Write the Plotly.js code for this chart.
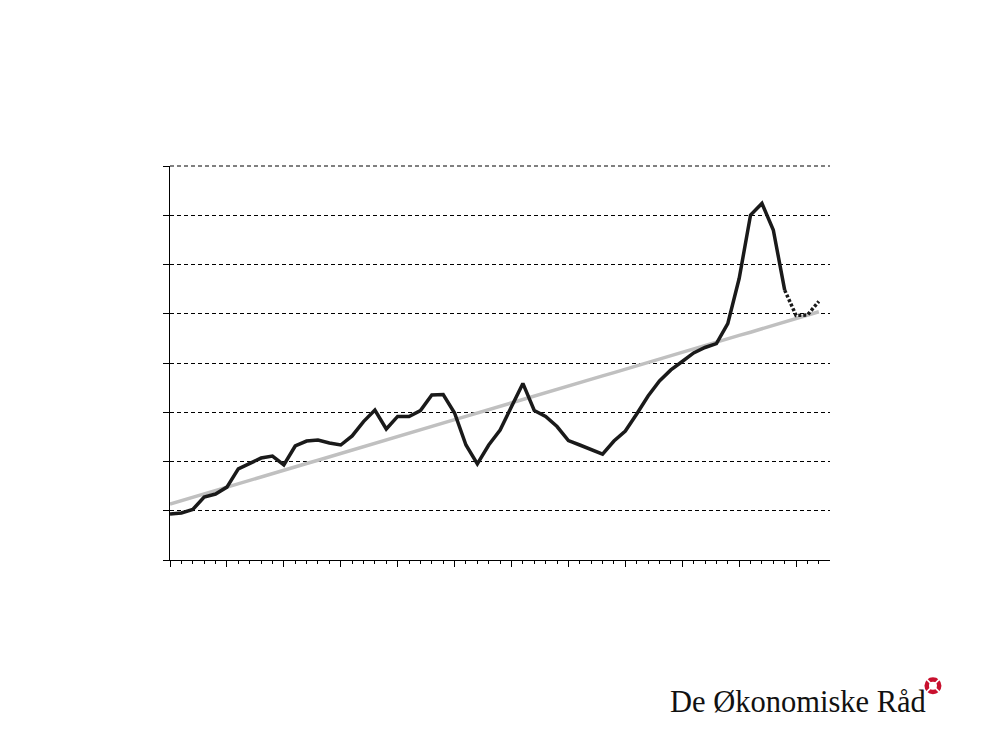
<!DOCTYPE html>
<html>
<head>
<meta charset="utf-8">
<script src="https://cdn.plot.ly/plotly-3.0.1.min.js"></script>
<style>html,body{margin:0;padding:0;background:#fff;}#chart{width:1000px;height:750px;}</style>
</head>
<body>
<div id="chart"></div>
<script>
const years = [1955,1956,1957,1958,1959,1960,1961,1962,1963,1964,1965,1966,1967,1968,1969,1970,1971,1972,1973,1974,1975,1976,1977,1978,1979,1980,1981,1982,1983,1984,1985,1986,1987,1988,1989,1990,1991,1992,1993,1994,1995,1996,1997,1998,1999,2000,2001,2002,2003,2004,2005,2006,2007,2008,2009,2010,2011,2012];
const housePrice = [18.7,19.1,20.5,25.6,26.8,29.6,37.0,39.4,41.4,42.2,38.6,46.3,48.3,48.7,47.5,46.7,50.4,56.2,60.9,53.2,58.3,58.3,60.7,67.0,67.2,59.7,46.7,39.0,46.7,52.8,62.1,71.7,60.7,58.3,54.2,48.5,46.7,44.7,43.0,48.3,52.4,59.3,66.6,72.7,77.2,80.6,84.1,86.3,87.9,96.0,114.3,140.1,144.8,134.0,109.6,99.3,99.5,105.0];
const trend = [22.7,24.1,25.5,26.9,28.2,29.6,31.0,32.3,33.7,35.1,36.4,37.8,39.2,40.5,41.9,43.3,44.6,46.0,47.4,48.7,50.1,51.5,52.9,54.2,55.6,57.0,58.3,59.7,61.1,62.4,63.8,65.2,66.5,67.9,69.3,70.6,72.0,73.4,74.8,76.1,77.5,78.9,80.2,81.6,83.0,84.3,85.7,87.1,88.4,89.8,91.2,92.5,93.9,95.3,96.7,98.0,99.4,100.8];
const forecastStart = 2009;
const yMax = 160;
const logoText = "De Økonomiske Råd";

const fi = years.indexOf(forecastStart);

const traces = [
  {x: years, y: trend, type: 'scatter', mode: 'lines', line: {color: '#c0c0c0', width: 3.5}, hoverinfo: 'skip'},
  {x: years.slice(0, fi + 1), y: housePrice.slice(0, fi + 1), type: 'scatter', mode: 'lines', line: {color: '#1a1a1a', width: 3.5}},
  {x: years.slice(fi), y: housePrice.slice(fi), type: 'scatter', mode: 'lines', line: {color: '#1a1a1a', width: 3.5, dash: '3px,2px'}}
];

const ax = 1.156, ay = -0.319;
const layout = {
  width: 1000, height: 750,
  margin: {l: 170, r: 170, t: 166, b: 190},
  paper_bgcolor: '#ffffff', plot_bgcolor: '#ffffff',
  showlegend: false,
  xaxis: {
    range: [1955, 2012.98], showgrid: false, zeroline: false,
    showline: true, linecolor: '#000', linewidth: 1,
    ticks: 'outside', tick0: 1955, dtick: 5, ticklen: 6, tickcolor: '#000', tickwidth: 1,
    showticklabels: false,
    minor: {ticks: 'outside', tick0: 1955, dtick: 1, ticklen: 3, tickcolor: '#000', tickwidth: 1, showgrid: false}
  },
  yaxis: {
    range: [0, yMax], dtick: 20, tick0: 0, zeroline: false,
    showgrid: true, gridcolor: '#000', gridwidth: 1, griddash: '4px,3px',
    showline: true, linecolor: '#000', linewidth: 1,
    ticks: 'outside', ticklen: 6, tickcolor: '#000', tickwidth: 1,
    showticklabels: false
  },
  annotations: [{
    text: logoText, xref: 'paper', yref: 'paper', x: 0.7545, y: -0.360,
    xanchor: 'left', yanchor: 'middle', showarrow: false,
    font: {family: 'Liberation Serif, serif', size: 30.5, color: '#111'}
  }],
  shapes: [
    {type: 'line', xref: 'paper', yref: 'paper', x0: 0, x1: 1, y0: 1, y1: 1, layer: 'below', line: {color: '#000', width: 1, dash: '4px,3px'}},
    {type: 'circle', xref: 'paper', yref: 'paper', xsizemode: 'pixel', ysizemode: 'pixel', xanchor: ax, yanchor: ay, x0: -8.5, x1: 8.5, y0: -8.5, y1: 8.5, fillcolor: '#c8102e', line: {width: 0}},
    {type: 'circle', xref: 'paper', yref: 'paper', xsizemode: 'pixel', ysizemode: 'pixel', xanchor: ax, yanchor: ay, x0: -4, x1: 4, y0: -4, y1: 4, fillcolor: '#ffffff', line: {width: 0}},
    {type: 'line', xref: 'paper', yref: 'paper', xsizemode: 'pixel', ysizemode: 'pixel', xanchor: ax, yanchor: ay, x0: -9, x1: 9, y0: -9, y1: 9, line: {color: '#ffffff', width: 1.6}},
    {type: 'line', xref: 'paper', yref: 'paper', xsizemode: 'pixel', ysizemode: 'pixel', xanchor: ax, yanchor: ay, x0: -9, x1: 9, y0: 9, y1: -9, line: {color: '#ffffff', width: 1.6}}
  ]
};

Plotly.newPlot('chart', traces, layout, {displayModeBar: false, staticPlot: true});
</script>
</body>
</html>
